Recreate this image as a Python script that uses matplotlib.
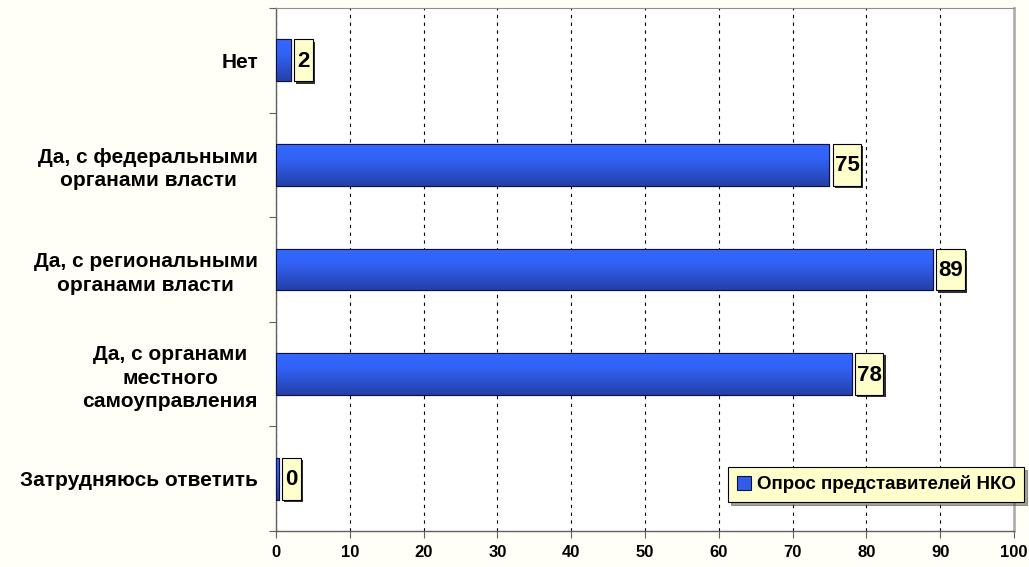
import numpy as np
import matplotlib
matplotlib.use("Agg")
import matplotlib.pyplot as plt
from matplotlib.patches import Rectangle, Patch
from matplotlib.colors import LinearSegmentedColormap

categories = [
    "Нет",
    "Да, с федеральными\nорганами власти",
    "Да, с региональными\nорганами власти",
    "Да, с органами\nместного\nсамоуправления",
    "Затрудняюсь ответить",
]
values = [2, 75, 89, 78, 0]
series_name = "Опрос представителей НКО"
x_ticks = list(range(0, 101, 10))

plt.rcParams['font.family'] = ['Liberation Sans', 'DejaVu Sans']

fig = plt.figure(figsize=(10.29, 5.67), dpi=100, facecolor='#FFFFF7')
ax = fig.add_axes([0.2682, 0.0635, 0.9854 - 0.2682, 0.9859 - 0.0635])
ax.set_facecolor('white')

ypos = np.arange(len(categories))
bar_h = 0.40
shown = [max(v, 0.35) for v in values]
bars = ax.barh(ypos, shown, height=bar_h, color='#3060F0',
               edgecolor='#101040', linewidth=0.8, zorder=3)

# gradient fill, light on top, darker at the bottom
grad_cmap = LinearSegmentedColormap.from_list(
    'g', ['#3468FF', '#3262F8', '#2C52D0', '#2440A8'])
grad = np.linspace(0, 1, 64).reshape(-1, 1)
for b in bars:
    x0, y0 = b.get_x(), b.get_y()
    w, h = b.get_width(), b.get_height()
    im = ax.imshow(grad, cmap=grad_cmap, aspect='auto', origin='upper',
                   extent=[x0, x0 + w, y0 + h, y0], zorder=3.5)
    im.set_clip_path(b)
    ax.add_patch(Rectangle((x0, y0), w, h, fill=False, edgecolor='#101040',
                           linewidth=0.8, zorder=4))

ax.set_xlim(0, 100)
ax.set_ylim(len(categories) - 0.5, -0.5)

# value label boxes
for yy, v, s in zip(ypos, values, shown):
    txt = str(v)
    bw = 1.35 + 1.25 * len(txt)
    bx = s + 0.45
    by = yy - bar_h / 2
    ax.add_patch(Rectangle((bx + 0.3, by + 0.022), bw, bar_h, facecolor='#303030',
                           edgecolor='none', zorder=4.5, clip_on=False))
    ax.add_patch(Rectangle((bx, by), bw, bar_h, facecolor='#FFFFCC',
                           edgecolor='black', linewidth=0.8, zorder=5, clip_on=False))
    ax.text(bx + bw / 2, yy + 0.01, txt, ha='center', va='center', fontsize=16,
            fontweight='bold', zorder=6,
            family=['Liberation Sans Narrow', 'Liberation Sans'])

ax.set_xticks(x_ticks)
ax.set_xticklabels([str(t) for t in x_ticks], fontsize=12, fontweight='bold')
ax.set_yticks(np.arange(len(categories) + 1) - 0.5)
ax.set_yticklabels([])
ax.set_yticks(ypos, minor=True)
ax.set_yticklabels(categories, minor=True, fontsize=15, fontweight='bold',
                   multialignment='center', linespacing=1.3)
ax.tick_params(axis='y', which='minor', length=0, pad=13)
ax.tick_params(axis='y', which='major', length=5, direction='out', color='#606060')
ax.tick_params(axis='x', length=5, direction='out', color='#606060', pad=5)

ax.grid(axis='x', color='black', linestyle=(0, (3, 4)), linewidth=0.8, zorder=1)
ax.set_axisbelow(True)

for side in ['left', 'bottom']:
    ax.spines[side].set_color('#606060')
    ax.spines[side].set_linewidth(1.0)
ax.spines['top'].set_color('#909090')
ax.spines['right'].set_color('#B0B0B0')
ax.spines['right'].set_linewidth(2.0)

handle = Patch(facecolor='#2F5CE8', edgecolor='#101040', linewidth=0.8)
leg = fig.legend([handle], [series_name], loc='lower right',
                 bbox_to_anchor=(0.995, 0.115), fancybox=False, shadow=True,
                 facecolor='#FFFFCC', edgecolor='black', framealpha=1,
                 prop={'weight': 'bold', 'size': 13.5}, handlelength=0.75,
                 handleheight=0.75, handletextpad=0.3, borderpad=0.45,
                 borderaxespad=0)
leg.get_frame().set_linewidth(0.8)

fig.savefig('out.png', dpi=100, facecolor=fig.get_facecolor())
